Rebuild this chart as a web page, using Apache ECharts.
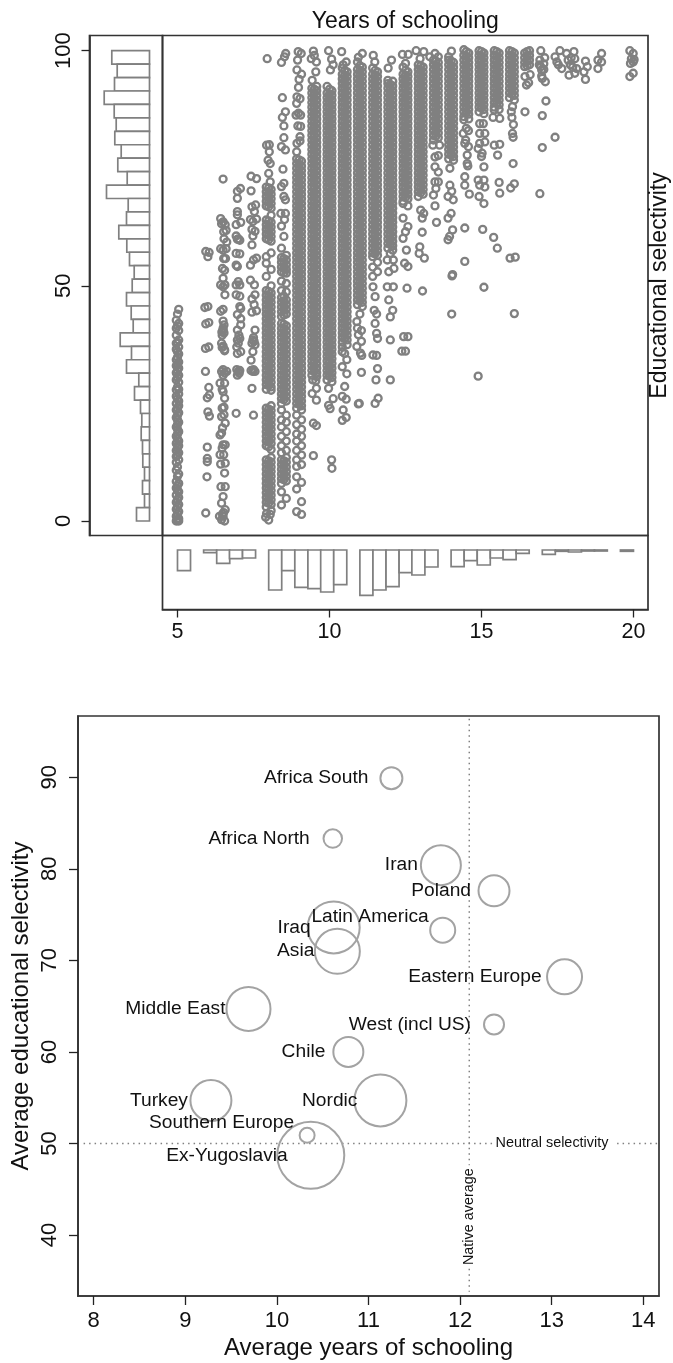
<!DOCTYPE html>
<html><head><meta charset="utf-8">
<style>html,body{margin:0;padding:0;background:#fff}#c{width:673px;height:1363px}</style>
<script src="https://cdn.jsdelivr.net/npm/echarts@6/dist/echarts.min.js"></script>
</head><body><div id="c"></div>
<script>
// ---- top panel: marginal histograms (frequency read as bar length) ----
const yBinLow=[97.14,94.29,91.43,88.57,85.71,82.86,80,77.14,74.29,71.43,68.57,65.71,62.86,60,57.14,54.29,51.43,48.57,45.71,42.86,40,37.14,34.29,31.43,28.57,25.71,22.86,20,17.14,14.29,11.43,8.57,5.71,2.86,0];
const yFreq=[37.7,32.3,35,45.3,35.3,33.3,34.7,28.3,31.7,22.3,43,21.3,23,30.7,22.7,20,15.3,17.3,23,18.3,16.3,29.3,18,23,10.7,15,9,7.7,8.3,7,6.7,5,7,5,13];
const xBinLow=[5,5.43,5.86,6.29,6.71,7.14,7.57,8,8.43,8.86,9.29,9.71,10.14,10.57,11,11.43,11.86,12.29,12.71,13.14,13.57,14,14.43,14.86,15.29,15.71,16.14,16.57,17,17.43,17.86,18.29,18.71,19.14,19.57];
const xFreq=[20.7,null,2.7,13.3,8.7,8,null,40,20.7,37.3,38.7,42,34.7,null,45.3,40,36.7,22.7,25,17,null,16.7,10.7,15,8,9.7,3.3,null,4.3,1.3,2,1,1,null,1.3];
const xTicksTop=[5,10,15,20];
const yTicksTop=[0,50,100];

// ---- top panel: scatter, columns ----
const c5a=[42.7,41,39.5,37.8,36.5,34.3,33,31.5,30,27.9,26.5,25,23.6,22,20,18,16.5,15,13.7,12.5,10.8,8.4,7,5.5,4,2.5,1,0];
const c5b=[45,42,40.5,38.5,37,35.5,33.8,32.5,31,29.5,28,27,25.5,24.5,23,21,19,17,16,14.5,13,10,8,6.2,5,3.5,2,0.5,0];
const c5c=[44,41.5,38,36,34.8,33.3,32,30.5,28.5,26,24,22.5,21.5,20.5,19.5,18.5,17.5,16,15.5,14,11.5,9.5,7.5,6.5,4.5,3,1.5,0.3];
const c8a=[71,70,69,68,67,64,63,62,61,60,56.2,54.8,52,49,48,47,46,45,44,43,42,41,40,39,38,37,36,35,34,33,32,31,30,29,28,24,23,22,21,20,19,18,17,16,13,12,11,10,9,8,7,6,5,4,3];
const c8b=[70.5,69.5,68.5,67.5,66.5,65,63.5,62.5,61.5,60.5,59.5,57,53.5,50,48.5,47.5,46.5,45.5,44.5,43.5,42.5,41.5,40.5,39.5,38.5,37.5,36.5,35.5,34.5,33.5,32.5,31.5,30.5,29.5,28.5,27.8,24.5,23.5,22.5,21.5,20.5,19.5,18.5,17.5,16.5,15.2,13.5,12.5,11.5,10.5,9.5,8.5,7.5,6.5,5.5,4.5,3.5,2.2];
const c8m=[70.8,69.8,68.8,67.8,66.8,63.8,62.8,61.8,60.8,59.8,48.8,47.8,46.8,45.8,44.8,43.8,42.8,41.8,40.8,39.8,38.8,37.8,36.8,35.8,34.8,33.8,32.8,31.8,30.8,29.8,28.8,23.8,22.8,21.8,20.8,19.8,18.8,17.8,16.8,15.8,12.8,11.8,10.8,9.8,8.8,7.8,6.8,5.8,4.8,3.8];
const c85a=[56,55,54,53,51,49,47.5,46.5,45.5,44.5,43.5,42,41,40,39,38,37,36,35,34,33,32,31,30,29,28,27,26,25,23.6,21.5,20,18,16,14.5,13,12,11,10,9,8,6.2,3.4];
const c85b=[56.5,55.5,54.5,53.5,52.7,50.5,48.7,47,46,45,44,41.5,40.5,39.5,38.5,37.5,36.5,35.5,34.5,33.5,32.5,31.5,30.5,29.5,28.5,27.5,26.5,25.5,22.5,21,19,17,15,13.5,12.5,11.5,10.5,9.5,8.5,4.8];
const c85m=[55.8,54.8,53.8,52.8,47.8,46.8,45.8,44.8,43.8,41.8,40.8,39.8,38.8,37.8,36.8,35.8,34.8,33.8,32.8,31.8,30.8,29.8,28.8,27.8,26.8,25.8,12.8,11.8,10.8,9.8,8.8];
const c9a=[77,76,75,74,73,72,71,70,69,68,67,66,65,64,63,62,61,60,59,58,57,56,55,54,53,52,51,50,49,48,47,46,45,44,43,42,41,40,39,38,37,36,35,34,33,32,31,30,29,28,27,26,25,24,22.5,20.5,18.5,17,15,13,11.6,9.4,6.8,2];
const c9b=[76.5,75.5,74.5,73.5,72.5,71.5,70.5,69.5,68.5,67.5,66.5,65.5,64.5,63.5,62.5,61.5,60.5,59.5,58.5,57.5,56.5,55.5,54.5,53.5,52.5,51.5,50.5,49.5,48.5,47.5,46.5,45.5,44.5,43.5,42.5,41.5,40.5,39.5,38.5,37.5,36.5,35.5,34.5,33.5,32.5,31.5,30.5,29.5,28.5,27.5,26.5,25.5,24.5,23.6,21.5,19.5,18,16,14,12,8.2,4.1,1.4];
const c9m=[76.8,75.8,74.8,73.8,72.8,71.8,70.8,69.8,68.8,67.8,66.8,65.8,64.8,63.8,62.8,61.8,60.8,59.8,58.8,57.8,56.8,55.8,54.8,53.8,52.8,51.8,50.8,49.8,48.8,47.8,46.8,45.8,44.8,43.8,42.8,41.8,40.8,39.8,38.8,37.8,36.8,35.8,34.8,33.8,32.8,31.8,30.8,29.8,28.8,27.8,26.8,25.8,24.8];
const c95a=[92,91,90,89,88,87,86,85,84,83,82,81,80,79,78,77,76,75,74,73,72,71,70,69,68,67,66,65,64,63,62,61,60,59,58,57,56,55,54,53,52,51,50,49,48,47,46,45,44,43,42,41,40,39,38,37,36,35,34,33,32,31];
const c95b=[92.4,91.5,90.5,89.5,88.5,87.5,86.5,85.5,84.5,83.5,82.5,81.5,80.5,79.5,78.5,77.5,76.5,75.5,74.5,73.5,72.5,71.5,70.5,69.5,68.5,67.5,66.5,65.5,64.5,63.5,62.5,61.5,60.5,59.5,58.5,57.5,56.5,55.5,54.5,53.5,52.5,51.5,50.5,49.5,48.5,47.5,46.5,45.5,44.5,43.5,42.5,41.5,40.5,39.5,38.5,37.5,36.5,35.5,34.5,33.5,32.5,31.5,30.7];
const c95m=[91.8,90.8,89.8,88.8,87.8,86.8,85.8,84.8,83.8,82.8,81.8,80.8,79.8,78.8,77.8,76.8,75.8,74.8,73.8,72.8,71.8,70.8,69.8,68.8,67.8,66.8,65.8,64.8,63.8,62.8,61.8,60.8,59.8,58.8,57.8,56.8,55.8,54.8,53.8,52.8,51.8,50.8,49.8,48.8,47.8,46.8,45.8,44.8,43.8,42.8,41.8,40.8,39.8,38.8,37.8,36.8,35.8,34.8,33.8,32.8,31.8];
const c10a=[92.4,91,90,89,88,87,86,85,84,83,82,81,80,79,78,77,76,75,74,73,72,71,70,69,68,67,66,65,64,63,62,61,60,59,58,57,56,55,54,53,52,51,50,49,48,47,46,45,44,43,42,41,40,39,38,37,36,35,34,33,32,31,30];
const c10b=[91.5,90.5,89.5,88.5,87.5,86.5,85.5,84.5,83.5,82.5,81.5,80.5,79.5,78.5,77.5,76.5,75.5,74.5,73.5,72.5,71.5,70.5,69.5,68.5,67.5,66.5,65.5,64.5,63.5,62.5,61.5,60.5,59.5,58.5,57.5,56.5,55.5,54.5,53.5,52.5,51.5,50.5,49.5,48.5,47.5,46.5,45.5,44.5,43.5,42.5,41.5,40.5,39.5,38.5,37.5,36.5,35.5,34.5,33.5,32.5,31.5,30.5,29.6];
const c10m=[91.8,90.8,89.8,88.8,87.8,86.8,85.8,84.8,83.8,82.8,81.8,80.8,79.8,78.8,77.8,76.8,75.8,74.8,73.8,72.8,71.8,70.8,69.8,68.8,67.8,66.8,65.8,64.8,63.8,62.8,61.8,60.8,59.8,58.8,57.8,56.8,55.8,54.8,53.8,52.8,51.8,50.8,49.8,48.8,47.8,46.8,45.8,44.8,43.8,42.8,41.8,40.8,39.8,38.8,37.8,36.8,35.8,34.8,33.8,32.8,31.8,30.8];
const c105a=[96.3,95,94,93,92,91,90,89,88,87,86,85,84,83,82,81,80,79,78,77,76,75,74,73,72,71,70,69,68,67,66,65,64,63,62,61,60,59,58,57,56,55,54,53,52,51,50,49,48,47,46,45,44,43,42,41,40,39,38,37];
const c105b=[95.5,94.5,93.5,92.5,91.5,90.5,89.5,88.5,87.5,86.5,85.5,84.5,83.5,82.5,81.5,80.5,79.5,78.5,77.5,76.5,75.5,74.5,73.5,72.5,71.5,70.5,69.5,68.5,67.5,66.5,65.5,64.5,63.5,62.5,61.5,60.5,59.5,58.5,57.5,56.5,55.5,54.5,53.5,52.5,51.5,50.5,49.5,48.5,47.5,46.5,45.5,44.5,43.5,42.5,41.5,40.5,39.5,38.5,37.5];
const c105m=[95.8,94.8,93.8,92.8,91.8,90.8,89.8,88.8,87.8,86.8,85.8,84.8,83.8,82.8,81.8,80.8,79.8,78.8,77.8,76.8,75.8,74.8,73.8,72.8,71.8,70.8,69.8,68.8,67.8,66.8,65.8,64.8,63.8,62.8,61.8,60.8,59.8,58.8,57.8,56.8,55.8,54.8,53.8,52.8,51.8,50.8,49.8,48.8,47.8,46.8,45.8,44.8,43.8,42.8,41.8,40.8,39.8,38.8];
const c11a=[97.6,96,95,94,93,92,91,90,89,88,87,86,85,84,83,82,81,80,79,78,77,76,75,74,73,72,71,70,69,68,67,66,65,64,63,62,61,60,59,58,57,56,55,54,53,52,51,50,49,48,47,46];
const c11b=[96.5,95.5,94.5,93.5,92.5,91.5,90.5,89.5,88.5,87.5,86.5,85.5,84.5,83.5,82.5,81.5,80.5,79.5,78.5,77.5,76.5,75.5,74.5,73.5,72.5,71.5,70.5,69.5,68.5,67.5,66.5,65.5,64.5,63.5,62.5,61.5,60.5,59.5,58.5,57.5,56.5,55.5,54.5,53.5,52.5,51.5,50.5,49.5,48.5,47.5,46.5,45.6];
const c11m=[96.8,95.8,94.8,93.8,92.8,91.8,90.8,89.8,88.8,87.8,86.8,85.8,84.8,83.8,82.8,81.8,80.8,79.8,78.8,77.8,76.8,75.8,74.8,73.8,72.8,71.8,70.8,69.8,68.8,67.8,66.8,65.8,64.8,63.8,62.8,61.8,60.8,59.8,58.8,57.8,56.8,55.8,54.8,53.8,52.8,51.8,50.8,49.8,48.8,47.8,46.8];
const c115a=[96.3,95,94,93,92,91,90,89,88,87,86,85,84,83,82,81,80,79,78,77,76,75,74,73,72,71,70,69,68,67,66,65,64,63,62,61,60,59,58,57,56.2,54,52];
const c115b=[95.5,94.5,93.5,92.5,91.5,90.5,89.5,88.5,87.5,86.5,85.5,84.5,83.5,82.5,81.5,80.5,79.5,78.5,77.5,76.5,75.5,74.5,73.5,72.5,71.5,70.5,69.5,68.5,67.5,66.5,65.5,64.5,63.5,62.5,61.5,60.5,59.5,58.5,57.5,56.5,55,53];
const c115m=[95.8,94.8,93.8,92.8,91.8,90.8,89.8,88.8,87.8,86.8,85.8,84.8,83.8,82.8,81.8,80.8,79.8,78.8,77.8,76.8,75.8,74.8,73.8,72.8,71.8,70.8,69.8,68.8,67.8,66.8,65.8,64.8,63.8,62.8,61.8,60.8,59.8,58.8,57.8,56.8];
const c12a=[93.7,93,92,91,90,89,88,87,86,85,84,83,82,81,80,79,78,77,76,75,74,73,72,71,70,69,68,67,66,65,64,63,62,61,60,59,58];
const c12b=[93.5,92.5,91.5,90.5,89.5,88.5,87.5,86.5,85.5,84.5,83.5,82.5,81.5,80.5,79.5,78.5,77.5,76.5,75.5,74.5,73.5,72.5,71.5,70.5,69.5,68.5,67.5,66.5,65.5,64.5,63.5,62.5,61.5,60.5,59.5,58.5,57.6];
const c12m=[92.8,91.8,90.8,89.8,88.8,87.8,86.8,85.8,84.8,83.8,82.8,81.8,80.8,79.8,78.8,77.8,76.8,75.8,74.8,73.8,72.8,71.8,70.8,69.8,68.8,67.8,66.8,65.8,64.8,63.8,62.8,61.8,60.8,59.8,58.8];
const c125a=[96.5,95,94,93,92,91,90,89,88,87,86,85,84,83,82,81,80,79,78,77,76,75,74,73,72,71,70,69,68,67.5];
const c125b=[95.5,94.5,93.5,92.5,91.5,90.5,89.5,88.5,87.5,86.5,85.5,84.5,83.5,82.5,81.5,80.5,79.5,78.5,77.5,76.5,75.5,74.5,73.5,72.5,71.5,70.5,69.5,68.5,67];
const c125m=[95.8,94.8,93.8,92.8,91.8,90.8,89.8,88.8,87.8,86.8,85.8,84.8,83.8,82.8,81.8,80.8,79.8,78.8,77.8,76.8,75.8,74.8,73.8,72.8,71.8,70.8,69.8,68.8];
const c13a=[97,96,95,94,93,92,91,90,89,88,87,86,85,84,83,82,81,80,79,78,77,76,75,74,73,72,71,70,69];
const c13b=[96.5,95.5,94.5,93.5,92.5,91.5,90.5,89.5,88.5,87.5,86.5,85.5,84.5,83.5,82.5,81.5,80.5,79.5,78.5,77.5,76.5,75.5,74.5,73.5,72.5,71.5,70.5,69.5];
const c13m=[96.8,95.8,94.8,93.8,92.8,91.8,90.8,89.8,88.8,87.8,86.8,85.8,84.8,83.8,82.8,81.8,80.8,79.8,78.8,77.8,76.8,75.8,74.8,73.8,72.8,71.8,70.8,69.8];
const c135a=[98,97,96,95,94,93,92,91,90,89,88,87,86,85,84,83,82,81];
const c135b=[97.5,96.5,95.5,94.5,93.5,92.5,91.5,90.5,89.5,88.5,87.5,86.5,85.5,84.5,83.5,82.5,81.5];
const c135m=[97.8,96.8,95.8,94.8,93.8,92.8,91.8,90.8,89.8,88.8,87.8,86.8,85.8,84.8,83.8,82.8,81.8];
const c14a=[98.7,98,97,96,95,94,93,92,91,90,89,88,87,86,85,84,83,82,81,80,79,78,77];
const c14b=[97.5,96.5,95.5,94.5,93.5,92.5,91.5,90.5,89.5,88.5,87.5,86.5,85.5,84.5,83.5,82.5,81.5,80.5,79.5,78.5,77.5,76.7];
const c14m=[97.8,96.8,95.8,94.8,93.8,92.8,91.8,90.8,89.8,88.8,87.8,86.8,85.8,84.8,83.8,82.8,81.8,80.8,79.8,78.8,77.8];
const c145a=[100.2,99,98,97,96,95,94,93,92,91,90,89,88,87,86,85.3];
const c145b=[99.5,98.5,97.5,96.5,95.5,94.5,93.5,92.5,91.5,90.5,89.5,88.5,87.5,86.5,85.5];
const c145m=[99.8,98.8,97.8,96.8,95.8,94.8,93.8,92.8,91.8,90.8,89.8,88.8,87.8,86.8];
const c15a=[100,99,98,97,96,95,94,93,92,91,90,89,88,87];
const c15b=[99.5,98.5,97.5,96.5,95.5,94.5,93.5,92.5,91.5,90.5,89.5,88.5,87.5,86.6];
const c15m=[99.8,98.8,97.8,96.8,95.8,94.8,93.8,92.8,91.8,90.8,89.8,88.8,87.8];
const c155a=[100,99,98,97,96,95,94,93,92,91,90,89,88,87.4];
const c155b=[99.5,98.5,97.5,96.5,95.5,94.5,93.5,92.5,91.5,90.5,89.5,88.5,87.5];
const c155m=[99.8,98.8,97.8,96.8,95.8,94.8,93.8,92.8,91.8,90.8,89.8,88.8];
const c16a=[100,99,98,97,96,95,94,93,92,91,90];
const c16b=[99.5,98.5,97.5,96.5,95.5,94.5,93.5,92.5,91.5,90.5,89.5];
const c16m=[99.8,98.8,97.8,96.8,95.8,94.8,93.8,92.8,91.8,90.8];
const c165a=[99.5,98.5,97.5,96.6];
const c165b=[100,99,98,97];
const c165m=[99.8,98.8,97.8,96.8];
const s6=[[5.93,57.3],[6.04,57.1],[6,56.2],[5.9,45.4],[6,45.6],[5.93,41.9],[6.03,42.2],[5.92,36.7],[6.03,37],[5.92,31.8],[6.03,28.4],[5.98,26.2],[6.05,26.8],[6,23.2],[6.05,22.3],[5.98,15.7],[5.98,13.3],[5.98,12.6],[5.97,9.4],[5.93,1.7]];
const s65=[[6.5,72.7],[6.42,64.3],[6.5,63.6],[6.57,63],[6.45,63.2],[6.52,61.5],[6.6,61.8],[6.53,60],[6.62,59.3],[6.42,57.9],[6.5,57.6],[6.6,57.9],[6.52,55.8],[6.58,55.8],[6.48,53.7],[6.55,53.3],[6.42,50.2],[6.5,51.6],[6.56,50.2],[6.5,49.8],[6.56,48.1],[6.5,45],[6.42,44.6],[6.5,41],[6.46,40.2],[6.53,41.7],[6.5,42.5],[6.5,40.6],[6.53,40],[6.47,39.5],[6.45,37.8],[6.5,37.2],[6.55,36.4],[6.47,36.9],[6.55,36.2],[6.45,31.8],[6.5,32.2],[6.55,31.5],[6.5,31],[6.62,31.8],[6.4,29.3],[6.55,29.3],[6.5,27.5],[6.47,28],[6.55,26.1],[6.47,24],[6.53,24.2],[6.45,22.2],[6.53,22.6],[6.57,20.8],[6.48,19.8],[6.45,18.7],[6.4,18.3],[6.5,16.2],[6.57,16.2],[6.47,15.5],[6.4,14.1],[6.52,14.1],[6.42,12.1],[6.57,12.3],[6.55,10.2],[6.43,7.3],[6.57,7.3],[6.5,5.2],[6.45,3.8],[6.57,2.4],[6.38,1],[6.5,1],[6.55,0],[6.45,0.3],[6.48,1.5],[6.52,1.8]];
const s7=[[6.97,70.1],[7.07,70.7],[6.97,68.6],[6.97,65.8],[6.97,65.1],[6.93,63],[7.08,63.5],[6.97,59.9],[6.93,60.6],[7.05,59.7],[7,60],[6.93,56.9],[7.05,56.8],[6.97,54.1],[6.93,54.4],[7,50.9],[6.93,50.2],[7.05,50.2],[6.93,48.1],[7.05,47.8],[7.05,45.6],[7.08,45.2],[6.97,43.9],[7.08,43],[6.97,40.6],[7.08,41.7],[6.97,38.5],[7,37.8],[6.97,35.6],[7.08,36],[7,31.8],[6.95,32.2],[7.03,31.4],[7.05,32],[6.97,31],[6.93,22.9],[7.02,39.5],[6.95,37],[7.05,38.8]];
const s75=[[7.42,73.3],[7.6,72.8],[7.42,70.2],[7.45,66.8],[7.57,67.2],[7.53,65.8],[7.4,64.1],[7.6,64.2],[7.48,63.7],[7.45,62],[7.55,61.6],[7.48,60.6],[7.45,58.7],[7.4,54.4],[7.5,55.5],[7.6,55.9],[7.4,51.2],[7.53,50.2],[7.55,48.1],[7.45,47.2],[7.52,46],[7.45,44.4],[7.6,44.7],[7.55,40.6],[7.48,38.5],[7.52,38.2],[7.45,37.8],[7.48,36],[7.42,34.2],[7.48,31.8],[7.42,32],[7.55,31.8],[7.5,32.2],[7.45,28.2],[7.5,22.5],[7.5,39],[7.55,37.5]];
const s8=[[7.95,98.3],[7.93,79.9],[8.02,80],[8.02,78.5],[7.98,76.7],[8.05,76],[8,73.9],[8.05,72.1],[7.9,0.8],[8,0.2],[7.93,1.6],[8.05,1.4]];
const s85=[[8.56,99.4],[8.52,98.7],[8.42,97.5],[8.45,90],[8.55,87],[8.45,85.8],[8.5,84],[8.5,81.5],[8.42,79.6],[8.55,78.9],[8.47,74.8],[8.5,71.8],[8.42,71.1],[8.5,69],[8.55,68.3],[8.4,65.4],[8.55,65.4],[8.52,64.1],[8.42,62.7],[8.5,60.5],[8.42,58]];
const s9=[[8.97,99.8],[9.07,99.4],[8.95,98],[8.93,95.9],[9.08,95],[9,93.9],[8.98,92.2],[8.93,90.2],[9.03,89.8],[8.92,88.8],[8.98,86.7],[8.9,86.3],[9.05,86.3],[8.96,84],[9.05,83.9],[9.03,81.7],[8.93,80.3],[9.03,80.8],[8.92,78.5]];
const s95=[[9.47,99.9],[9.5,99],[9.57,97.6],[9.4,98.3],[9.55,95.5],[9.43,93.7],[9.57,28.2],[9.43,27.1],[9.57,25.7],[9.47,20.8],[9.57,20.3],[9.47,13.9],[9.45,30],[9.55,29.8]];
const s10=[[9.97,100],[10.07,98.2],[10.12,97],[10.03,95.9],[9.97,28.2],[10.12,26],[9.97,24.6],[10.02,23.9],[10.07,13],[10.08,11.2]];
const s105=[[10.4,99.8],[10.55,97.6],[10.45,97],[10.57,34.3],[10.42,32.8],[10.57,31.3],[10.5,28.6],[10.42,26.5],[10.55,25.9],[10.45,23.6],[10.55,22],[10.42,21.4],[10.5,35.6],[10.42,36]];
const s11=[[11.08,99.4],[10.95,98.6],[10.9,42.4],[10.95,39.6],[11.05,38.2],[10.9,37.1],[11.02,35.7],[11.05,31.6],[10.98,25],[11,44],[10.92,41],[11.05,40.5],[10.95,24.9],[11.06,35.2]];
const s115=[[11.44,99],[11.49,97.6],[11.43,49.8],[11.5,47.7],[11.47,44.8],[11.5,42],[11.55,39.9],[11.58,38.8],[11.43,35.3],[11.55,35.2],[11.58,32.4],[11.53,30],[11.6,26.1],[11.5,25],[11.55,44]];
const s12=[[12.04,98],[11.93,96.3],[12,56.9],[11.9,55.5],[12.1,55.5],[11.95,53],[12.12,53.7],[11.9,49.8],[12.1,49.8],[11.95,47],[12.08,44.8],[12,43.4],[12,38.5],[12,30]];
const s125=[[12.4,99.2],[12.59,99.2],[12.5,97.3],[12.42,64.4],[12.58,62.6],[12.5,61.5],[12.42,60.1],[12.53,57.6],[12.47,54.8],[12.58,54.1],[12.55,49.5],[12.44,39.2],[12.58,39.2],[12.38,36.1],[12.5,36.1]];
const s13=[[12.85,100],[13.1,99.8],[12.98,98.3],[13,66.1],[13.1,65.4],[13.05,64.4],[13.05,61.4],[12.97,58.3],[12.95,56.9],[13.12,55.9],[13.06,48.9]];
const s135=[[13.3,98.7],[13.47,99.4],[13.58,98.7],[13.4,79.9],[13.62,79.9],[13.47,77.4],[13.58,77.7],[13.47,75.3],[13.58,74.2],[13.47,72.1],[13.58,72.1],[13.5,70.7],[13.42,69.3],[13.47,67],[13.52,63.5]];
const s14=[[14.01,99.9],[13.96,75],[13.9,69],[14.07,68.3],[13.96,71.4],[14.02,70.1],[14,65.4],[13.9,64.4],[14.05,61.9],[13.9,59.8],[14.05,52.4],[14.02,44],[14.03,52.1],[13.95,60.5]];
const s145=[[14.5,83.5],[14.4,82.4],[14.57,83],[14.45,80.3],[14.57,79.6],[14.53,77.8],[14.53,76],[14.45,73.2],[14.45,71.4],[14.6,69.5],[14.45,62.3],[14.45,55.2],[14.48,81],[14.55,75.5]];
const s15=[[14.94,84.5],[15.06,84.5],[14.94,82.4],[15.11,82.4],[14.94,80.3],[15.11,80.6],[14.89,79.2],[15,77.5],[15.08,75.3],[14.89,72.5],[15.08,72.5],[14.94,71.4],[15.11,71],[14.92,69],[15.08,67.5],[15.04,62],[15.08,49.7],[14.89,30.8],[15.02,78.2]];
const s155=[[15.38,85.8],[15.6,85.6],[15.42,79.9],[15.6,80.1],[15.53,77.8],[15.58,72],[15.6,69.7],[15.4,60.3],[15.52,58]];
const s16=[[16.02,88.1],[16.02,82.4],[16.04,81.6],[16.04,76],[15.96,70.8],[16.08,71.7],[15.94,55.9],[16.11,56.1],[16.08,44.1],[16,85.8],[16.05,84.3],[15.98,87]];
const s165=[[16.43,94.5],[16.6,94.9],[16.48,92.7],[16.55,93.2],[16.43,87]];
const s17=[[16.95,100],[16.92,98],[17.05,97.2],[16.95,96.6],[17.05,96],[16.98,95.9],[17,94.1],[17.1,93.4],[17.12,89.3],[17,86.2],[17,79.4],[16.92,69.6],[17.08,98.5],[16.9,97],[16.98,94.6]];
const s175=[[17.58,100],[17.42,98.7],[17.48,97.6],[17.53,97],[17.64,96.2],[17.42,81.6]];
const s18=[[17.8,99.4],[18.04,99.8],[17.85,98],[18.07,98.3],[17.92,97],[18.13,96.2],[17.88,94.8],[18.07,95.2],[18,96.5],[17.95,98.5]];
const s185=[[18.42,97.8],[18.48,96.6],[18.37,95.5],[18.42,93.9]];
const s19=[[18.95,99.4],[18.83,98],[18.95,97.6],[18.83,96.2]];
const s20=[[19.88,100],[19.99,99.4],[19.93,98.3],[19.99,97.6],[19.9,97.3],[20.02,98.1],[19.99,95.2],[19.88,94.5]];

// ---- bottom panel: regional averages ----
const regionNames=['Africa South','Africa North','Iraq','Asia','Middle East','Iran','Poland','Latin America','Eastern Europe','West (incl US)','Chile','Nordic','Turkey','Southern Europe','Ex-Yugoslavia'];
const regionX=[11.25,10.61,10.62,10.66,9.69,11.79,12.37,11.81,13.14,12.37,10.78,11.13,9.28,10.33,10.37];
const regionY=[89.9,83.3,73.6,71,64.7,80.4,77.6,73.3,68.2,63,60,54.7,54.7,50.9,48.7];
const regionWeight=[22,18.5,52,45,44,40,31,25,35,20,30,52,41,15,67];
const xTicksBot=[8,9,10,11,12,13,14];
const yTicksBot=[40,50,60,70,80,90];
const nativeAverage=12.1;
const neutralSelectivity=50;

const FONT='"Liberation Sans",Arial,sans-serif', INK='#111', FRAME='#333', GREY='#808080', LIGHT='#a3a3a3';
const denseCols=[[4.96,c5a],[5.04,c5b],[5,c5c],[7.92,c8a],[8.08,c8b],[8,c8m],[8.42,c85a],[8.58,c85b],[8.5,c85m],[8.92,c9a],[9.08,c9b],[9,c9m],[9.42,c95a],[9.58,c95b],[9.5,c95m],[9.92,c10a],[10.08,c10b],[10,c10m],[10.42,c105a],[10.58,c105b],[10.5,c105m],[10.92,c11a],[11.08,c11b],[11,c11m],[11.42,c115a],[11.58,c115b],[11.5,c115m],[11.92,c12a],[12.08,c12b],[12,c12m],[12.42,c125a],[12.58,c125b],[12.5,c125m],[12.92,c13a],[13.08,c13b],[13,c13m],[13.42,c135a],[13.58,c135b],[13.5,c135m],[13.92,c14a],[14.08,c14b],[14,c14m],[14.42,c145a],[14.58,c145b],[14.5,c145m],[14.92,c15a],[15.08,c15b],[15,c15m],[15.42,c155a],[15.58,c155b],[15.5,c155m],[15.92,c16a],[16.08,c16b],[16,c16m],[16.42,c165a],[16.58,c165b],[16.5,c165m]];
const sparse=[s6,s65,s7,s75,s8,s85,s9,s95,s10,s105,s11,s115,s12,s125,s13,s135,s14,s145,s15,s155,s16,s165,s17,s175,s18,s185,s19,s20];
const scatterData=[];
denseCols.forEach(function(c){c[1].forEach(function(y){scatterData.push([c[0],y]);});});
sparse.forEach(function(s){s.forEach(function(p){scatterData.push(p);});});

const XR={min:4.507,max:20.477}, YR={min:-3.083,max:103.23};
const hidden={axisLine:{show:false},axisTick:{show:false},axisLabel:{show:false},splitLine:{show:false}};
const tick={show:true,length:8,lineStyle:{color:'#222',width:1.3}};
const shownLine={show:true,onZero:false,lineStyle:{color:FRAME,width:1.7}};
const border={show:true,outerBoundsMode:'none',backgroundColor:'transparent',borderColor:FRAME,borderWidth:1.7};
function histStyle(){return {fill:'#fff',stroke:GREY,lineWidth:1.7};}
function rectFrom(a,b){
  return {type:'rect',shape:{x:Math.min(a[0],b[0]),y:Math.min(a[1],b[1]),width:Math.abs(a[0]-b[0]),height:Math.abs(a[1]-b[1])},style:histStyle()};
}
const option={
  animation:false,backgroundColor:'#fff',
  grid:[
    Object.assign({left:162.5,top:35.5,width:485.5,height:500},border),
    Object.assign({left:89.5,top:35.5,width:73,height:500},border),
    Object.assign({left:162.5,top:535.5,width:485.5,height:74},border),
    Object.assign({left:78,top:716,width:581,height:580},border)
  ],
  xAxis:[
    Object.assign({gridIndex:0,type:'value',position:'top',min:XR.min,max:XR.max,name:'Years of schooling',nameLocation:'middle',nameGap:2,nameTextStyle:{fontFamily:FONT,fontSize:23,color:INK,verticalAlign:'bottom'}},hidden),
    Object.assign({gridIndex:1,type:'value',inverse:true,min:-13,max:60},hidden),
    Object.assign({},hidden,{gridIndex:2,type:'value',min:XR.min,max:XR.max,axisLine:shownLine,axisTick:Object.assign({customValues:xTicksTop},tick),axisLabel:{show:true,customValues:xTicksTop,fontFamily:FONT,fontSize:21.5,color:INK,margin:12}}),
    Object.assign({},hidden,{gridIndex:3,type:'value',min:7.829,max:14.171,name:'Average years of schooling',nameLocation:'middle',nameGap:52,nameTextStyle:{fontFamily:FONT,fontSize:24,color:INK,verticalAlign:'middle'},axisLine:shownLine,axisTick:Object.assign({customValues:xTicksBot},tick,{length:9}),axisLabel:{show:true,customValues:xTicksBot,fontFamily:FONT,fontSize:22,color:INK,margin:14}})
  ],
  yAxis:[
    Object.assign({gridIndex:0,type:'value',position:'right',min:YR.min,max:YR.max,name:'Educational selectivity',nameLocation:'middle',nameGap:12,nameRotate:90,nameTextStyle:{fontFamily:FONT,fontSize:23,color:INK,verticalAlign:'middle'}},hidden),
    Object.assign({},hidden,{gridIndex:1,type:'value',min:YR.min,max:YR.max,axisLine:shownLine,axisTick:Object.assign({customValues:yTicksTop},tick),axisLabel:{show:true,rotate:90,customValues:yTicksTop,fontFamily:FONT,fontSize:22,color:INK,margin:15}}),
    Object.assign({gridIndex:2,type:'value',inverse:true,min:-14.5,max:59.5},hidden),
    Object.assign({},hidden,{gridIndex:3,type:'value',min:33.34,max:96.69,name:'Average educational selectivity',nameLocation:'middle',nameMoveOverlap:false,nameGap:57,nameRotate:90,nameTextStyle:{fontFamily:FONT,fontSize:24,color:INK,verticalAlign:'middle'},axisLine:shownLine,axisTick:Object.assign({customValues:yTicksBot},tick,{length:9}),axisLabel:{show:true,rotate:90,customValues:yTicksBot,fontFamily:FONT,fontSize:22,color:INK,margin:17}})
  ],
  series:[
    {type:'scatter',xAxisIndex:0,yAxisIndex:0,silent:true,large:false,symbol:'circle',symbolSize:7,data:scatterData,itemStyle:{color:'transparent',borderColor:GREY,borderWidth:2.3,opacity:1}},
    {type:'custom',xAxisIndex:1,yAxisIndex:1,silent:true,data:yFreq.map(function(v,i){return [v,yBinLow[i]];}),encode:{x:0,y:1},
      renderItem:function(p,api){return rectFrom(api.coord([0,api.value(1)]),api.coord([api.value(0),api.value(1)+2.857]));}},
    {type:'custom',xAxisIndex:2,yAxisIndex:2,silent:true,data:xFreq.map(function(v,i){return [xBinLow[i],v];}).filter(function(d){return d[1]!==null;}),encode:{x:0,y:1},
      renderItem:function(p,api){return rectFrom(api.coord([api.value(0),0]),api.coord([api.value(0)+0.4286,api.value(1)]));}},
    {type:'line',xAxisIndex:3,yAxisIndex:3,silent:true,symbol:'none',data:[[nativeAverage,96.4],[nativeAverage,33.8]],lineStyle:{color:GREY,width:1.5,type:[1.5,4]},z:1},
    {type:'line',xAxisIndex:3,yAxisIndex:3,silent:true,symbol:'none',data:[[7.89,neutralSelectivity],[14.17,neutralSelectivity]],lineStyle:{color:GREY,width:1.5,type:[1.5,4]},z:1},
    {type:'scatter',xAxisIndex:3,yAxisIndex:3,silent:true,symbolSize:0,z:2,itemStyle:{opacity:1},data:[[13.03,neutralSelectivity]],label:{show:true,position:'inside',formatter:'Neutral selectivity',fontFamily:FONT,fontSize:14.4,color:INK,backgroundColor:'#fff',padding:[1,8,1,3]}},
    {type:'scatter',xAxisIndex:3,yAxisIndex:3,silent:true,symbolSize:0,z:2,itemStyle:{opacity:1},data:[[nativeAverage,42.0]],label:{show:true,position:'inside',rotate:90,formatter:'Native average',fontFamily:FONT,fontSize:14.4,color:INK,backgroundColor:'#fff',padding:[1,3,1,3]}},
    {type:'scatter',xAxisIndex:3,yAxisIndex:3,silent:true,z:3,symbol:'circle',data:regionX.map(function(x,i){return {value:[x,regionY[i]],symbolSize:regionWeight[i]};}),itemStyle:{color:'transparent',borderColor:LIGHT,borderWidth:2,opacity:1}},
    {type:'scatter',xAxisIndex:3,yAxisIndex:3,silent:true,z:4,symbolSize:0,itemStyle:{opacity:1},
      data:regionNames.map(function(n,i){
        const o=n==='Latin America'?[9,-13]:n==='Southern Europe'?[10,-13]:[0,0];
        return {name:n,value:[regionX[i],regionY[i]],label:{offset:o}};
      }),
      label:{show:true,position:'left',distance:23,formatter:'{b}',fontFamily:FONT,fontSize:19.2,color:INK}}
  ]
};
echarts.init(document.getElementById('c'),null,{renderer:'canvas'}).setOption(option);
</script></body></html>
